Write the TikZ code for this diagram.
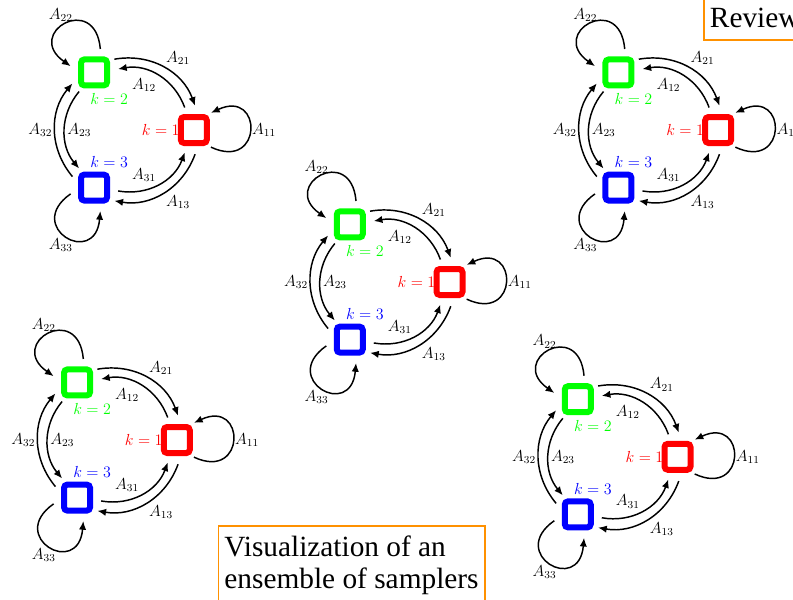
\documentclass[tikz,border=0pt]{standalone}
\usepackage{fontspec}
\usetikzlibrary{arrows.meta}
\newfontfamily\boxfont{Liberation Serif}
\definecolor{boxorange}{RGB}{255,145,0}

\tikzset{
  state/.style={circle, fill=white, inner sep=0pt, minimum size=36pt,
    path picture={\draw[#1, line width=4.5pt, rounded corners=2.5pt]
      ([shift={(-9.75pt,-9.75pt)}]path picture bounding box.center) rectangle
      ([shift={(9.75pt,9.75pt)}]path picture bounding box.center);}},
  klab/.style={inner sep=0pt, font=\fontsize{12}{14}\selectfont},
  link/.style={-{Latex[length=6.5pt,width=5.5pt]}, line width=1.1pt, auto,
    inner sep=1.5pt, font=\fontsize{11.5}{13}\selectfont},
  self/.style={-{Latex[length=6.5pt,width=5.5pt]}, line width=1.1pt,
    looseness=4.3, inner sep=1pt, font=\fontsize{11.5}{13}\selectfont},
  note/.style={draw=boxorange, line width=1.4pt, align=left,
    inner xsep=4.5pt, font=\boxfont\fontsize{22}{24}\selectfont}
}

\begin{document}
\begin{tikzpicture}[x=0.75pt, y=0.75pt]
  \useasboundingbox (0,0) rectangle (793,-600);
  \clip (0,0) rectangle (793,-600);

  % five copies of the chain
  \foreach \n/\cx/\cy in {a/127.3/-130, b/383/-282, c/651.7/-130, d/110.3/-440, e/611/-456.8}{
    \begin{scope}[shift={(\cx,\cy)}]
      % states
      \node[state=red]   (r\n) at (0:66.5)   {};
      \node[state=green] (g\n) at (120:66.5) {};
      \node[state=blue]  (b\n) at (240:66.5) {};
      \node[klab, text=red, anchor=east]         (kr\n) at ([shift={(-14,0)}]r\n.center) {$k=1$};
      \node[klab, text=green, anchor=north west] (kg\n) at ([shift={(-4,-21)}]g\n.center) {$k=2$};
      \node[klab, text=blue, anchor=south west]  (kb\n) at ([shift={(-4,20)}]b\n.center)  {$k=3$};

      % outer arcs
      \draw[link] (g\n.33)  to[out=10,  in=110] node {$A_{21}$} (r\n.87);
      \draw[link] (r\n.-87) to[out=-110, in=-10] node {$A_{13}$} (b\n.-33);
      \draw[link] (b\n.153) to[out=130, in=230] node {$A_{32}$} (g\n.207);
      % inner arcs
      \draw[link] (r\n.112) to[out=110, in=10]  node {$A_{12}$} (g\n.8);
      \draw[link] (g\n.232) to[out=230, in=130] node {$A_{23}$} (b\n.128);
      \draw[link] (b\n.352) to[out=350, in=250] node {$A_{31}$} (r\n.248);

      % self loops
      \draw[self] (r\n.-45) to[out=-25, in=25]  node[anchor=west] {$A_{11}$} (r\n.45);
      \draw[self] (g\n.75)  to[out=95,  in=145] node[anchor=-60]  {$A_{22}$} (g\n.165);
      \draw[self] (b\n.195) to[out=215, in=265] node[anchor=60]   {$A_{33}$} (b\n.285);
    \end{scope}
  }

  % captions
  \node[note, anchor=south west, inner ysep=9pt, text width=150pt, text height=30pt] (review) at (703,-41) {Review};
  \node[note, anchor=north west, inner ysep=7.5pt, text depth=60pt] (caption) at (217.5,-525)
    {Visualization of an\\ensemble of samplers};
\end{tikzpicture}
\end{document}
